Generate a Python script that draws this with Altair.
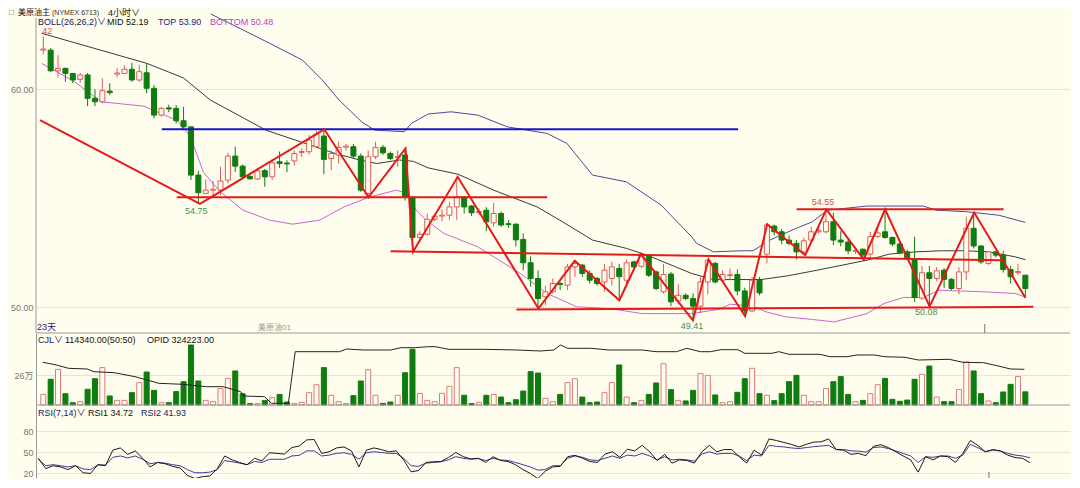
import altair as alt
import pandas as pd

# ---------------- candle data (4h bars, index 0..133) ----------------
OPEN = [61.80, 61.80, 60.85, 60.96, 60.73, 60.46, 60.66, 59.59, 59.43, 59.92,
        60.70, 60.73, 60.92, 60.43, 60.76, 60.05, 58.82, 59.15, 59.13, 58.56,
        58.28, 56.07, 55.23, 55.38, 55.38, 55.84, 56.94, 56.48, 56.00, 55.89,
        56.27, 55.99, 56.68, 56.62, 56.72, 57.10, 57.14, 57.37, 57.86, 56.83,
        56.99, 57.35, 57.37, 56.94, 55.23, 56.91, 57.34, 57.06, 56.88, 56.99,
        55.05, 53.21, 53.36, 54.04, 54.19, 54.23, 54.61, 55.07, 54.65, 54.36,
        54.46, 53.88, 54.31, 53.84, 53.82, 53.12, 52.05, 51.33, 50.49, 50.72,
        51.10, 51.02, 51.86, 51.94, 51.56, 51.33, 51.17, 51.33, 51.79, 51.25,
        52.09, 51.89, 52.35, 51.63, 50.72, 51.53, 50.30, 50.56, 50.41, 50.06,
        51.17, 52.02, 51.25, 51.46, 51.51, 50.76, 49.84, 51.25, 52.44, 53.73,
        53.47, 53.09, 52.94, 52.55, 53.09, 53.47, 53.47, 53.93, 53.09, 53.00,
        52.58, 52.67, 52.45, 53.25, 53.47, 53.21, 52.91, 52.55, 52.24, 50.43,
        51.59, 51.33, 51.71, 51.29, 50.87, 51.63, 53.63, 52.82, 52.02, 52.55,
        52.40, 51.74, 51.60, 51.48]
HIGH = [62.42, 61.90, 61.57, 61.00, 60.75, 60.75, 60.75, 60.00, 60.50, 60.28,
        60.97, 61.10, 61.22, 61.13, 61.19, 60.20, 59.20, 59.30, 59.28, 59.20,
        58.30, 56.27, 55.87, 55.80, 56.45, 57.10, 57.37, 56.55, 56.10, 56.40,
        56.35, 56.80, 57.15, 56.75, 57.20, 57.30, 57.90, 58.10, 58.17, 57.20,
        57.60, 57.50, 57.50, 57.06, 57.20, 57.60, 57.45, 57.15, 57.20, 57.29,
        55.10, 53.50, 54.30, 54.30, 54.50, 54.84, 55.99, 55.10, 54.70, 54.55,
        54.60, 54.80, 54.40, 54.00, 53.85, 53.40, 52.35, 51.70, 51.00, 51.33,
        51.17, 52.00, 52.14, 52.00, 51.70, 51.40, 52.00, 52.10, 52.00, 52.20,
        52.15, 52.44, 52.44, 51.70, 52.00, 51.63, 51.07, 50.65, 50.64, 51.40,
        52.20, 52.09, 51.71, 51.79, 51.74, 50.90, 51.40, 51.40, 53.85, 53.80,
        53.60, 53.30, 53.09, 53.20, 53.70, 53.65, 54.55, 54.35, 53.50, 53.10,
        52.70, 52.70, 53.47, 53.70, 54.50, 53.25, 53.00, 52.65, 53.24, 51.90,
        51.90, 51.85, 51.80, 51.35, 51.85, 54.16, 54.35, 52.85, 52.60, 52.60,
        52.60, 51.90, 51.99, 51.48]
LOW = [61.60, 60.80, 60.55, 60.35, 60.28, 60.30, 59.23, 59.23, 59.36, 59.74,
       60.55, 60.70, 60.35, 60.35, 59.82, 58.67, 58.75, 58.95, 58.44, 58.20,
       55.84, 54.75, 55.20, 55.05, 55.15, 55.69, 56.22, 55.90, 55.85, 55.85,
       55.53, 55.85, 56.40, 56.20, 56.50, 56.90, 57.00, 57.30, 56.11, 56.30,
       56.60, 57.20, 56.85, 55.30, 55.05, 56.80, 57.00, 56.75, 56.45, 54.90,
       52.55, 53.10, 53.30, 53.95, 53.95, 54.00, 54.00, 54.30, 54.20, 54.25,
       53.50, 53.70, 53.70, 53.65, 52.80, 51.70, 50.95, 49.95, 50.10, 50.64,
       50.80, 50.80, 51.40, 51.40, 51.10, 51.00, 50.72, 51.00, 50.33, 51.10,
       51.80, 51.80, 51.40, 50.80, 50.64, 50.06, 50.15, 50.33, 49.41, 49.74,
       50.60, 51.10, 51.17, 51.25, 50.56, 49.60, 49.80, 50.56, 52.02, 53.30,
       52.90, 52.85, 52.20, 52.40, 53.00, 53.40, 53.40, 52.86, 52.80, 52.45,
       52.45, 52.17, 52.20, 53.20, 53.15, 52.80, 52.45, 52.15, 50.26, 50.35,
       50.08, 51.20, 50.90, 50.80, 50.60, 51.25, 52.70, 52.00, 51.95, 52.30,
       51.60, 51.10, 51.50, 50.45]
CLOSE = [61.85, 60.85, 60.96, 60.73, 60.43, 60.66, 59.59, 59.43, 59.94, 59.85,
         60.75, 60.92, 60.43, 60.81, 60.05, 58.82, 59.13, 59.10, 58.56, 58.28,
         56.07, 55.26, 55.38, 55.42, 55.80, 56.94, 56.48, 55.99, 55.90, 56.27,
         55.99, 56.63, 56.60, 56.58, 57.06, 57.15, 57.67, 57.95, 56.79, 57.06,
         57.34, 57.40, 56.94, 55.38, 56.91, 57.34, 57.09, 56.83, 56.93, 55.05,
         53.21, 53.36, 54.04, 54.19, 54.23, 54.61, 55.07, 54.61, 54.34, 54.40,
         53.93, 54.31, 53.78, 53.80, 53.10, 52.05, 51.33, 50.41, 50.72, 51.10,
         51.05, 51.86, 52.02, 51.56, 51.25, 51.10, 51.71, 51.86, 51.41, 52.05,
         51.86, 52.44, 51.48, 50.87, 51.51, 50.26, 50.56, 50.41, 50.06, 51.17,
         52.17, 51.17, 51.51, 51.50, 50.76, 49.84, 51.25, 50.67, 53.78, 53.47,
         53.09, 52.94, 52.55, 53.06, 53.47, 53.52, 53.93, 53.09, 53.00, 52.60,
         52.62, 52.41, 53.25, 53.42, 53.21, 52.91, 52.51, 52.24, 50.46, 51.59,
         51.33, 51.68, 51.29, 50.87, 51.63, 53.63, 52.82, 52.09, 52.55, 52.40,
         51.74, 51.41, 51.65, 50.87]
# volume (万手)
VOL = [9.2, 22.3, 30.9, 9.8, 2.0, 2.9, 13.6, 22.8, 32.4, 7.8,
       4.0, 4.0, 10.7, 19.4, 28.6, 12.7, 2.0, 2.0, 11.6, 20.2,
       52.0, 20.8, 4.0, 2.9, 14.2, 23.1, 29.5, 9.8, 1.2, 1.2,
       4.0, 6.4, 9.2, 2.6, 1.2, 2.3, 10.7, 17.6, 32.4, 8.4,
       2.9, 1.2, 8.1, 20.8, 30.6, 8.4, 1.4, 2.6, 8.4, 28.0,
       48.3, 10.1, 4.0, 2.9, 10.1, 16.2, 32.4, 8.4, 1.2, 2.3,
       8.4, 9.2, 6.9, 2.0, 4.6, 12.1, 28.9, 27.7, 5.8, 2.9,
       9.2, 19.4, 22.8, 6.9, 2.0, 2.6, 10.7, 19.4, 34.7, 6.9,
       2.0, 4.0, 9.2, 19.1, 35.8, 13.3, 4.0, 3.5, 12.7, 27.2,
       25.7, 8.7, 2.0, 2.9, 11.0, 22.8, 31.8, 9.8, 8.4, 3.8,
       9.8, 20.2, 25.7, 8.4, 2.9, 2.9, 14.2, 20.2, 24.6, 9.2,
       2.9, 4.0, 9.8, 17.6, 23.1, 4.9, 3.2, 4.3, 22.3, 26.6,
       33.8, 6.9, 2.9, 2.9, 13.3, 37.3, 29.5, 9.8, 3.5, 2.0,
       11.3, 17.9, 24.6, 11.4]
RSI1 = [41.2, 26.5, 30.6, 28.8, 25.0, 30.6, 20.5, 19.5, 32.0, 30.6,
        52.8, 56.0, 46.8, 51.8, 41.2, 28.8, 35.2, 33.4, 29.7, 27.4,
        16.8, 12.2, 14.9, 15.9, 26.0, 44.5, 38.9, 35.2, 32.0, 41.2,
        37.5, 49.1, 48.2, 47.2, 56.5, 58.8, 67.5, 68.0, 48.2, 50.5,
        56.0, 57.4, 51.8, 28.8, 52.8, 56.0, 53.7, 50.5, 51.8, 38.9,
        21.8, 23.7, 35.2, 36.2, 36.6, 42.2, 49.5, 43.5, 40.3, 41.2,
        35.2, 43.5, 38.0, 36.6, 32.0, 25.0, 19.5, 12.2, 22.8, 28.8,
        29.7, 43.5, 45.4, 41.2, 36.6, 35.2, 47.2, 50.5, 42.6, 54.2,
        51.8, 59.7, 50.5, 38.0, 46.8, 34.3, 38.9, 38.0, 34.3, 50.5,
        59.7, 50.5, 53.7, 53.7, 43.5, 34.3, 52.8, 45.8, 68.9, 66.6,
        63.8, 61.1, 57.4, 61.1, 64.3, 64.8, 68.9, 53.7, 52.8, 46.8,
        48.2, 44.9, 58.3, 60.6, 56.5, 50.5, 44.5, 38.9, 21.4, 43.5,
        38.9, 44.5, 43.5, 35.2, 48.2, 66.6, 59.7, 50.5, 53.7, 51.8,
        45.8, 42.2, 41.2, 34.7]
RSI2 = [39.8, 30.6, 32.0, 30.6, 28.8, 30.6, 26.0, 25.0, 32.0, 31.5,
        42.6, 44.5, 41.7, 44.5, 39.8, 33.4, 35.2, 34.3, 32.0, 30.6,
        25.0, 20.5, 20.5, 21.4, 25.0, 38.0, 36.2, 34.3, 32.0, 36.6,
        35.2, 39.8, 39.8, 39.8, 44.5, 45.4, 51.8, 51.8, 44.5, 45.8,
        48.2, 49.1, 46.8, 40.0, 49.1, 50.5, 49.5, 48.2, 48.2, 41.2,
        30.6, 29.7, 34.3, 35.2, 36.2, 38.9, 43.5, 41.2, 39.8, 40.8,
        38.0, 41.2, 38.9, 38.0, 35.2, 32.0, 28.8, 24.2, 25.1, 30.6,
        30.6, 41.2, 44.5, 42.6, 38.9, 38.0, 41.2, 44.5, 41.2, 45.8,
        44.5, 48.2, 44.5, 38.9, 43.5, 38.9, 39.8, 38.9, 37.1, 47.2,
        50.5, 47.2, 48.2, 48.2, 44.5, 38.0, 45.8, 44.5, 59.7, 58.3,
        57.4, 56.0, 55.1, 56.5, 57.8, 58.8, 59.7, 53.7, 53.7, 51.8,
        51.4, 50.0, 56.5, 57.4, 55.1, 51.8, 48.2, 44.5, 35.2, 43.5,
        42.6, 44.5, 44.5, 41.2, 45.8, 61.1, 56.5, 50.5, 52.8, 51.8,
        48.2, 45.8, 44.5, 41.9]

# Bollinger (26,26,2) lines, read at sparse points (bar index, price)
MID_I = [-0.21, 14.04, 19.00, 22.63, 27.05, 30.14, 37.51, 39.52, 42.88, 45.16,
         48.24, 50.12, 52.13, 56.16, 60.99, 66.88, 69.97, 74.39, 78.96, 81.78,
         87.81, 90.76, 95.19, 97.20, 100.80, 104.84, 111.55, 114.63, 118.25, 121.60,
         124.96, 128.04, 131.66, 133.00]
MID_P = [62.57, 61.19, 60.52, 59.51, 58.70, 58.13, 57.29, 57.06, 56.76, 56.60,
         56.76, 56.70, 56.40, 56.11, 55.38, 54.61, 54.00, 53.09, 52.71, 52.40,
         51.56, 51.28, 51.28, 51.28, 51.45, 51.71, 52.17, 52.45, 52.55, 52.60,
         52.60, 52.55, 52.32, 52.19]
TOP_I = [22.69, 25.71, 30.67, 35.10, 37.78, 40.06, 43.15, 44.89, 48.91, 49.85,
         52.13, 55.22, 58.84, 62.86, 68.23, 70.91, 74.39, 78.96, 83.65, 87.81,
         88.48, 90.76, 94.38, 96.12, 98.41, 101.89, 104.17, 106.18, 111.55, 119.19,
         120.93, 124.96, 129.39, 133.00]
TOP_P = [63.45, 62.95, 62.11, 61.34, 60.43, 59.51, 58.50, 58.13, 58.06, 58.44,
         58.87, 58.97, 58.82, 58.28, 57.98, 57.52, 56.07, 55.76, 54.70, 53.24,
         52.94, 52.55, 52.60, 52.60, 53.09, 53.62, 53.93, 54.46, 54.65, 54.65,
         54.46, 54.39, 54.23, 53.90]
BOT_I = [-0.21, 4.25, 7.83, 13.64, 15.38, 18.07, 19.94, 21.68, 23.97, 27.05,
         30.67, 33.76, 37.38, 40.73, 44.22, 47.84, 49.18, 50.52, 51.86, 54.28,
         58.84, 64.61, 68.23, 72.25, 76.68, 81.10, 87.81, 91.43, 93.04, 96.12,
         97.87, 100.55, 104.17, 107.12, 111.55, 113.83, 116.51, 119.19, 121.34, 127.24,
         131.66, 133.00]
BOT_P = [61.19, 60.35, 59.43, 59.23, 58.97, 58.59, 57.83, 56.20, 55.30, 54.46,
         54.00, 53.82, 54.00, 54.61, 55.07, 55.38, 55.23, 54.46, 54.00, 53.39,
         52.78, 51.56, 50.64, 50.03, 49.95, 49.72, 49.72, 49.91, 50.15, 50.06,
         49.80, 49.57, 49.45, 49.34, 49.72, 50.18, 50.46, 50.46, 50.79, 50.72,
         50.64, 50.48]

# hand-drawn zig-zag (bar index, price)
ZIG_I = [-0.44, 21.22, 38.05, 44.05, 49.05, 50.08, 56.12, 67.06, 71.98, 78.02,
         80.93, 87.98, 90.09, 95.05, 98.04, 103.19, 106.05, 111.11, 114.00, 120.04,
         126.07, 133.00]
ZIG_P = [58.59, 54.75, 58.17, 55.05, 57.29, 52.55, 55.99, 49.95, 52.14, 50.33,
         52.44, 49.41, 52.20, 49.60, 53.82, 52.40, 54.50, 52.20, 54.50, 50.05,
         54.35, 50.45]

# hand-drawn level lines
RSEG_I1 = [18.07, 47.04, 64.07, 102.02]
RSEG_P1 = [55.05, 52.58, 49.91, 54.50]
RSEG_I2 = [68.23, 129.92, 134.08, 130.06]
RSEG_P2 = [55.05, 52.17, 50.03, 54.50]
BSEG_I1 = [16.05]
BSEG_P1 = [58.17]
BSEG_I2 = [94.11]
BSEG_P2 = [58.17]

# open interest line (bar index, contracts)
OPID_I = [-0.05, 1.80, 3.41, 5.94, 6.87, 9.62, 12.43, 15.65, 18.87, 22.09,
          24.37, 26.73, 27.19, 29.96, 30.89, 33.19, 34.12, 40.13, 41.05, 43.36,
          47.04, 48.43, 50.25, 52.13, 53.07, 54.91, 59.51, 64.14, 67.29, 69.14,
          70.06, 70.98, 74.22, 76.53, 81.14, 82.98, 85.76, 87.14, 88.99, 90.36,
          91.77, 94.07, 95.00, 98.67, 99.61, 101.00, 105.16, 106.54, 108.86, 110.20,
          112.55, 113.93, 116.71, 118.52, 122.68, 124.56, 127.33, 129.17, 130.99, 132.87]
OPID_V = [338223, 332823, 326223, 324823, 319423, 317423, 309423, 296223, 294223, 289423,
          289423, 279423, 270823, 269423, 256223, 256223, 359423, 359423, 364823, 362823,
          362823, 367423, 367423, 369423, 369423, 364223, 364223, 362823, 360823, 362823,
          372823, 366223, 366223, 362823, 362823, 359423, 359423, 366223, 359423, 359423,
          363423, 363423, 356223, 356223, 359423, 354223, 354223, 349423, 349423, 352823,
          352823, 349423, 348223, 342823, 344223, 338223, 337423, 331423, 324823, 324223]

LBL_TEXT = ["42", "54.75", "54.55", "49.41", "50.08"]
LBL_I = [0, 21, 106, 88, 120]
LBL_P = [62.42, 54.75, 54.55, 49.41, 50.08]
SEP_I = [127.5]

# ---------------- style ----------------
BG = "#FFFEEE"
GRID = "#E6E6D4"
AXC = "#9A9A9A"
GREEN = "#0E7C0E"
RED = "#E05A5A"
PINK = "#E07878"
ZIGC = "#E41A1A"
BLUE = "#1414C8"
FONT = "Liberation Sans, Noto Sans CJK SC, sans-serif"

W = 1034
H_MAIN, H_VOL, H_RSI = 325, 72, 73

xs = alt.Scale(domain=[-0.308, 138.37], nice=False, zero=False)
ys_main = alt.Scale(domain=[48.83, 63.73], nice=False, zero=False)
ys_vol = alt.Scale(domain=[0, 62.4], nice=False)
ys_opid = alt.Scale(domain=[252823, 396823], nice=False, zero=False)
ys_rsi = alt.Scale(domain=[13, 117.4], nice=False, zero=False)


def X(f):
    return alt.X(f"{f}:Q", scale=xs, axis=None)


def mk_axis(vals, **kw):
    return alt.Axis(values=vals, grid=True, gridColor=GRID, ticks=False,
                    labelColor="#777777", labelFont=FONT, labelFontSize=9,
                    labelPadding=3, minExtent=28, maxExtent=28, **kw)


ax_main = mk_axis([50, 60], format=".2f", domain=False)
ax_vol = mk_axis([26], labelExpr="datum.value + '万'", domain=True, domainColor=AXC)
ax_rsi = mk_axis([20, 50, 80], domain=True, domainColor=AXC)


def YM(f):
    return alt.Y(f"{f}:Q", scale=ys_main, axis=ax_main, title=None)


def txt(s, x, y, color, size=9):
    return alt.Chart(pd.DataFrame({"t": [s]})).mark_text(
        align="left", baseline="middle", font=FONT, fontSize=size, color=color
    ).encode(x=alt.value(x), y=alt.value(y), text="t:N")


N = len(OPEN)
df = pd.DataFrame({"i": list(range(N)), "o": OPEN, "h": HIGH, "l": LOW, "c": CLOSE,
                   "v": VOL, "r1": RSI1, "r2": RSI2})
up = "datum.c >= datum.o"

# ---------------- main price panel ----------------
def line_layer(I, P, color, width=1):
    d = pd.DataFrame({"i": I, "p": P})
    return alt.Chart(d).mark_line(color=color, strokeWidth=width, clip=True).encode(
        x=X("i"), y=YM("p"))

l_mid = line_layer(MID_I, MID_P, "#3A3A3A")
l_top = line_layer(TOP_I, TOP_P, "#4A4A9A")
l_bot = line_layer(BOT_I, BOT_P, "#CC66CC")

wick = alt.Chart(df).mark_rule(strokeWidth=1).encode(
    x=X("i"), y=YM("l"), y2="h:Q",
    stroke=alt.condition(up, alt.value(RED), alt.value(GREEN)))
body = alt.Chart(df).mark_bar(size=5, strokeWidth=1).encode(
    x=X("i"), y=YM("o"), y2="c:Q",
    fill=alt.condition(up, alt.value(BG), alt.value(GREEN)),
    stroke=alt.condition(up, alt.value(RED), alt.value(GREEN)))

rseg = alt.Chart(pd.DataFrame({"i1": RSEG_I1, "p1": RSEG_P1, "i2": RSEG_I2, "p2": RSEG_P2})
                 ).mark_rule(color=ZIGC, strokeWidth=2, clip=True).encode(
    x=X("i1"), x2="i2:Q", y=YM("p1"), y2="p2:Q")
bseg = alt.Chart(pd.DataFrame({"i1": BSEG_I1, "p1": BSEG_P1, "i2": BSEG_I2, "p2": BSEG_P2})
                 ).mark_rule(color=BLUE, strokeWidth=2, clip=True).encode(
    x=X("i1"), x2="i2:Q", y=YM("p1"), y2="p2:Q")
zig = line_layer(ZIG_I, ZIG_P, ZIGC, 2)

lbl_df = pd.DataFrame({"t": LBL_TEXT, "i": LBL_I, "p": LBL_P})
lbl_style = [("#E05050", 4, -6), ("#4C8C4C", -2, 7), ("#D05050", -3, -6),
             ("#4C8C4C", -1, 6), ("#4C8C4C", -3, 6.5)]
labels = []
for k, (col, dx, dy) in enumerate(lbl_style):
    labels.append(alt.Chart(lbl_df.iloc[[k]]).mark_text(
        font=FONT, fontSize=9, color=col, dx=dx, dy=dy, baseline="middle"
    ).encode(x=X("i"), y=YM("p"), text="t:N"))

one = pd.DataFrame({"a": [0]})
axis_line = alt.Chart(one).mark_rule(color=AXC).encode(
    x=alt.value(0), y=alt.value(10), y2=alt.value(H_MAIN))
bottom_line = alt.Chart(one).mark_rule(color=AXC).encode(
    x=alt.value(0), x2=alt.value(W), y=alt.value(H_MAIN))
sep_main = alt.Chart(pd.DataFrame({"i": SEP_I})).mark_rule(color="#777777").encode(
    x=X("i"), y=alt.value(H_MAIN - 9), y2=alt.value(H_MAIN))

main_texts = [
    txt("□", -27, 5, "#555555", 8),
    txt("美原油主", -18, 5, "#111111", 8),
    txt("(NYMEX 6713)", 16, 5, "#333333", 7),
    txt("4小时∨", 72, 5, "#111111", 9),
    txt("BOLL(26,26,2)∨", 2, 14, "#202060"),
    txt("MID 52.19", 71, 14, "#111111"),
    txt("TOP 53.90", 122, 14, "#1A1A8C"),
    txt("BOTTOM 50.48", 174, 14, "#C040C0"),
    txt("23天", 1, 319, "#202080"),
    txt("美原油01", 222, 320, "#999999", 8),
]

main = alt.layer(l_mid, l_top, l_bot, wick, body, rseg, bseg, zig, *labels,
                 axis_line, bottom_line, sep_main, *main_texts
                 ).properties(width=W, height=H_MAIN)

# ---------------- volume / open interest panel ----------------
vbars = alt.Chart(df).mark_bar(size=5, strokeWidth=1).encode(
    x=X("i"), y=alt.Y("v:Q", scale=ys_vol, axis=ax_vol, title=None),
    fill=alt.condition(up, alt.value(BG), alt.value(GREEN)),
    stroke=alt.condition(up, alt.value(PINK), alt.value(GREEN)))
opid = alt.Chart(pd.DataFrame({"i": OPID_I, "v": OPID_V})).mark_line(
    color="#222222", strokeWidth=1, clip=True).encode(
    x=X("i"), y=alt.Y("v:Q", scale=ys_opid, axis=None))
vol_base = alt.Chart(one).mark_rule(color=AXC).encode(
    x=alt.value(0), x2=alt.value(W), y=alt.value(H_VOL))
vol_texts = [
    txt("CJL∨", 2, 6.5, "#202060"),
    txt("114340.00(50:50)", 29, 6.5, "#111111"),
    txt("OPID 324223.00", 111, 6.5, "#111111"),
]
vol = alt.layer(vbars, opid, vol_base, *vol_texts).resolve_scale(
    y="independent").properties(width=W, height=H_VOL)

# ---------------- RSI panel ----------------
r2 = alt.Chart(df).mark_line(color="#3C3C96", strokeWidth=1, clip=True).encode(
    x=X("i"), y=alt.Y("r2:Q", scale=ys_rsi, axis=ax_rsi, title=None))
r1 = alt.Chart(df).mark_line(color="#1A1A1A", strokeWidth=1, clip=True).encode(
    x=X("i"), y=alt.Y("r1:Q", scale=ys_rsi, axis=ax_rsi, title=None))
sep_rsi = alt.Chart(pd.DataFrame({"i": SEP_I})).mark_rule(color="#777777").encode(
    x=X("i"), y=alt.value(H_RSI - 6), y2=alt.value(H_RSI))
rsi_texts = [
    txt("RSI(7,14)∨", 2, 7.5, "#202060"),
    txt("RSI1 34.72", 52, 7.5, "#111111"),
    txt("RSI2 41.93", 105, 7.5, "#202060"),
]
rsi = alt.layer(r2, r1, sep_rsi, *rsi_texts).properties(width=W, height=H_RSI)

chart = alt.vconcat(main, vol, rsi, spacing=0, bounds="flush", padding=0).configure(
    background=BG, font=FONT).configure_view(stroke=None)

chart.save("out.html", embed_options={"renderer": "svg", "actions": False})
